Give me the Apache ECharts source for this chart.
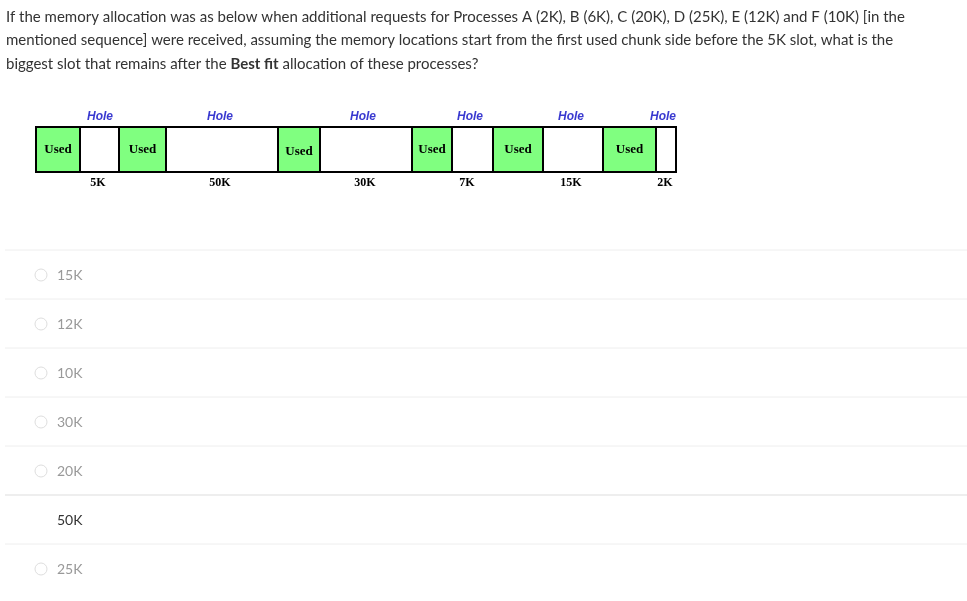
<!DOCTYPE html><html><head><meta charset="utf-8">
<script src="https://cdn.jsdelivr.net/npm/echarts@6/dist/echarts.min.js"></script>
<style>html,body{margin:0;padding:0;background:#fff}#c{width:967px;height:601px}</style></head><body><div id="c"></div>
<script>
const blockKinds=["Used","Hole","Used","Hole","Used","Hole","Used","Hole","Used","Hole","Used","Hole"];
const blockEdges=[36,80,119,166,278,320,412,452,493,543,603,656,676];
const holeSizes=["5K","50K","30K","7K","15K","2K"];
const options=["15K","12K","10K","30K","20K","50K","25K"];
const selected=5;

const chart=echarts.init(document.getElementById('c'));
const data=blockKinds.map((k,i)=>[blockEdges[i],blockEdges[i+1],k]);
const g=[];
g.push({type:'text',left:6,top:5,style:{text:'If the memory allocation was as below when additional requests for Processes A (2K), B (6K), C (20K), D (25K), E (12K) and F (10K) [in the\nmentioned sequence] were received, assuming the memory locations start from the first used chunk side before the 5K slot, what is the\n{n|biggest slot that remains after the }{b|Best fit}{n| allocation of these processes?}',font:'15px Lato',fill:'#333',lineHeight:23.5,rich:{n:{font:'15px Lato',fill:'#333'},b:{font:'bold 15px Lato',fill:'#333'}}}});
const holeXs=[100,220,363,470,571,663];
holeXs.forEach((x,i)=>{
 g.push({type:'text',x:x,y:117,style:{text:'Hole',font:'italic bold 12px "Liberation Sans"',fill:'#3a3ad0',align:'center',verticalAlign:'middle'}});
 g.push({type:'text',x:[98,220,365,467,571,665][i],y:183,style:{text:holeSizes[i],font:'bold 12px "Liberation Serif"',fill:'#000',align:'center',verticalAlign:'middle'}});
});
const sepY=[250,299,348,397,446,495,544];
options.forEach((o,i)=>{
 g.push({type:'line',shape:{x1:5,y1:sepY[i],x2:967,y2:sepY[i]},style:{stroke:i===5?'#ddd':'#eee',lineWidth:1}});
 if(i!==selected) g.push({type:'circle',shape:{cx:41,cy:sepY[i]+25,r:6},style:{fill:'#fff',stroke:'#ddd',lineWidth:1}});
 g.push({type:'text',x:57,y:sepY[i]+25,style:{text:o,font:'14px Lato',fill:i===selected?'#333':'#999',verticalAlign:'middle'}});
});
chart.setOption({animation:false,
 grid:{left:0,right:0,top:0,bottom:0},
 xAxis:{type:'value',min:0,max:967,show:false},
 yAxis:{type:'value',min:0,max:601,inverse:true,show:false},
 series:[{type:'custom',data:data,renderItem:(p,api)=>{
  const a=api.coord([api.value(0),127]),b=api.coord([api.value(1),172]);
  const used=data[p.dataIndex][2]==='Used';
  return {type:'group',children:[
   {type:'rect',shape:{x:a[0],y:a[1],width:b[0]-a[0],height:b[1]-a[1]},style:{fill:used?'#80ff80':'#fff',stroke:'#000',lineWidth:2}},
   used?{type:'text',style:{x:(a[0]+b[0])/2,y:(a[1]+b[1])/2+(p.dataIndex===4?2:0),text:'Used',font:'bold 13px "Liberation Serif"',fill:'#000',align:'center',verticalAlign:'middle'}}:{type:'group',children:[]}
  ]};
 }}],
 graphic:g});
</script></body></html>
